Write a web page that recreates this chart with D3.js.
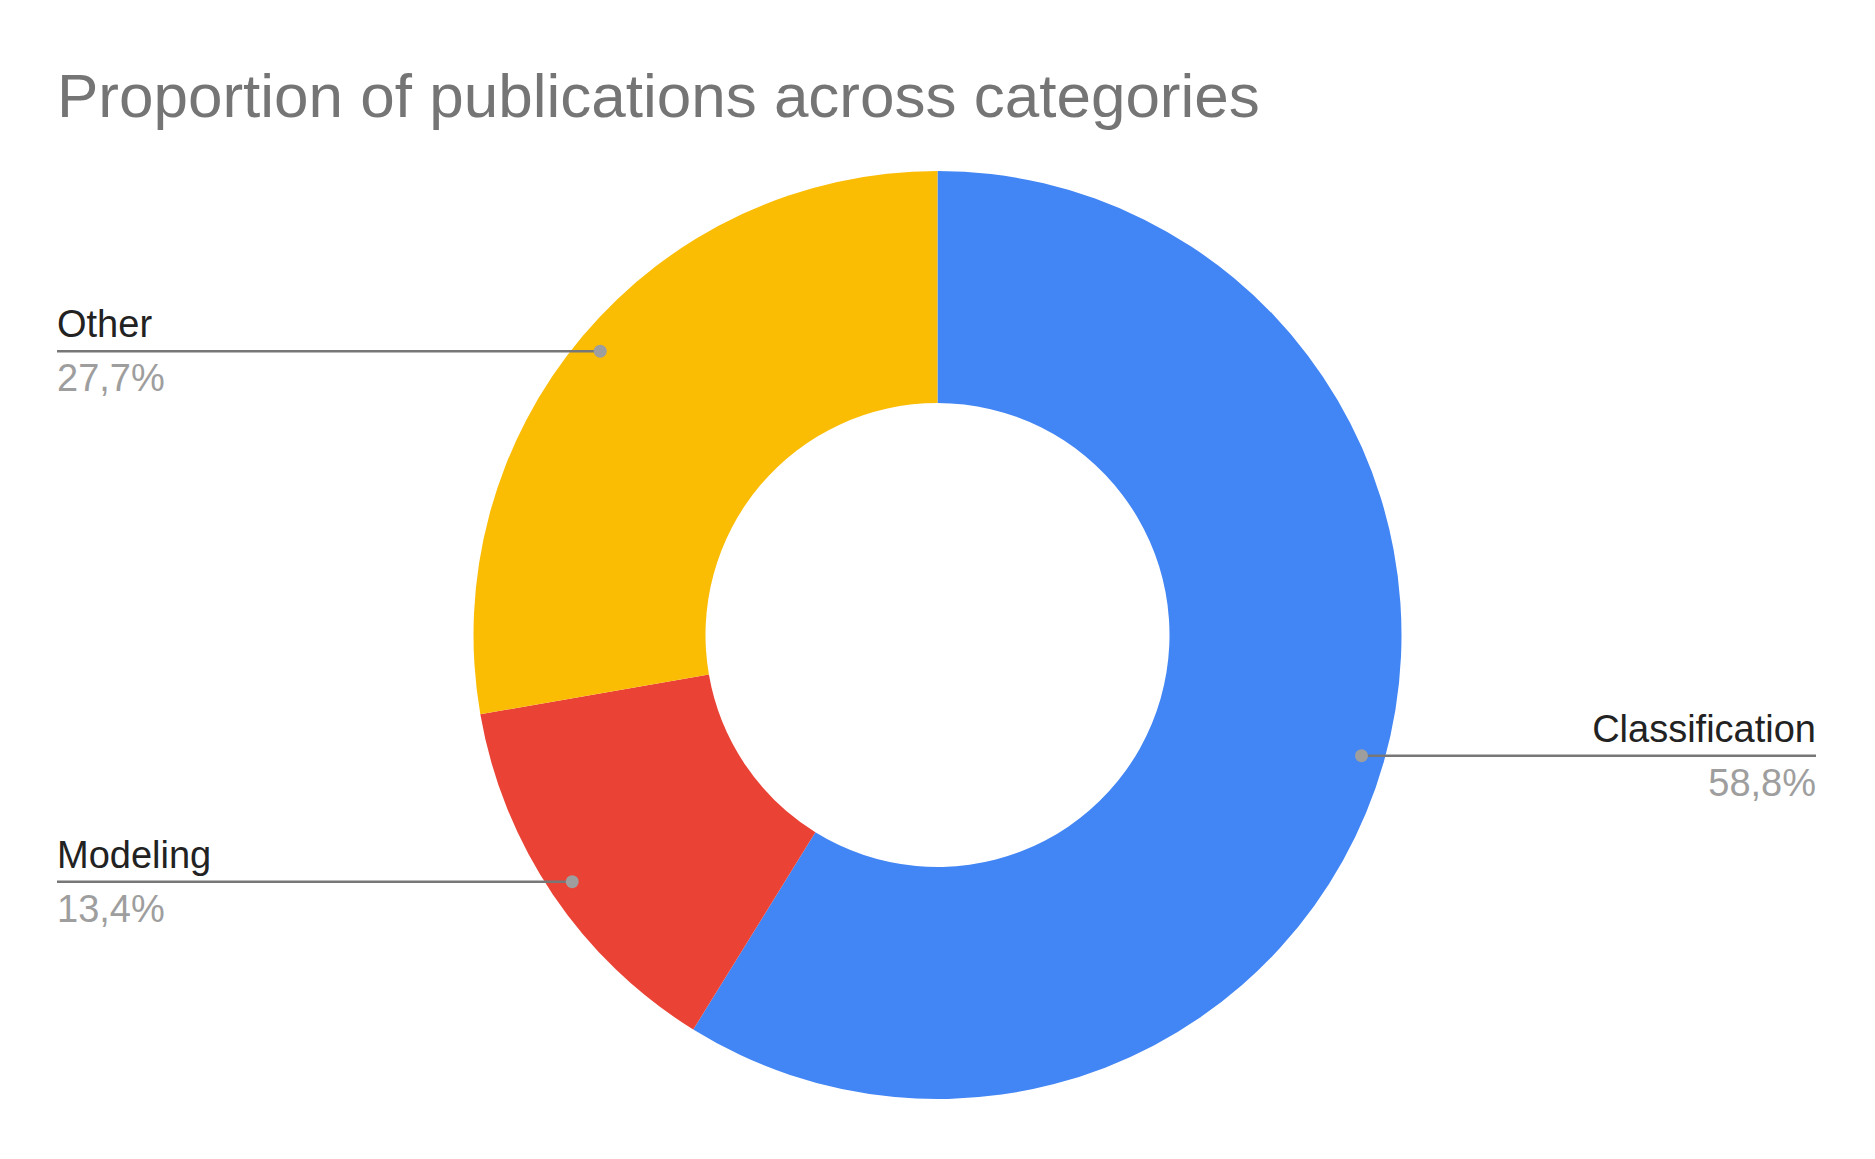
<!DOCTYPE html>
<html>
<head>
<meta charset="utf-8">
<script src="https://cdn.jsdelivr.net/npm/d3@7"></script>
<style>
  body { margin: 0; background: #fff; }
  svg { display: block; }
</style>
</head>
<body>
<div id="chart"></div>
<script>
var categories = ["Classification", "Modeling", "Other"];
var counts = [70, 16, 33];
var colors = ["#4285F4", "#EA4335", "#FBBC04"];
var chartTitle = "Proportion of publications across categories";

var width = 1875, height = 1159;
var cx = 937.5, cy = 635;
var outerR = 464, innerR = 232;
var leftX = 57, rightX = 1816;
var font = "'Liberation Sans', Arial, sans-serif";

var svg = d3.select("#chart").append("svg")
    .attr("width", width)
    .attr("height", height);

svg.append("text")
    .attr("x", leftX)
    .attr("y", 117)
    .attr("font-family", font)
    .attr("font-size", 62)
    .attr("fill", "#757575")
    .text(chartTitle);

var data = categories.map(function(c, i) { return {name: c, value: counts[i], color: colors[i]}; });
var total = d3.sum(counts);

var pie = d3.pie().sort(null).value(function(d) { return d.value; });
var arc = d3.arc().innerRadius(innerR).outerRadius(outerR);
var arcs = pie(data);

var g = svg.append("g").attr("transform", "translate(" + cx + "," + cy + ")");

g.selectAll("path")
    .data(arcs)
    .enter()
    .append("path")
    .attr("d", arc)
    .attr("fill", function(d) { return d.data.color; });

// label anchor sits at the middle angle of each slice, near the outer edge
var anchorR = outerR * 0.95;
var fmt = function(v) { return d3.format(".1f")(v * 100).replace(".", ",") + "%"; };

arcs.forEach(function(d) {
    var a = (d.startAngle + d.endAngle) / 2;
    var px = cx + anchorR * Math.sin(a);
    var py = cy - anchorR * Math.cos(a);
    var isRight = Math.sin(a) > 0;
    var edge = isRight ? rightX : leftX;
    var anchor = isRight ? "end" : "start";

    svg.append("line")
        .attr("x1", px).attr("y1", py)
        .attr("x2", edge).attr("y2", py)
        .attr("stroke", "#777777")
        .attr("stroke-width", 2.5);

    svg.append("circle")
        .attr("cx", px).attr("cy", py)
        .attr("r", 6.5)
        .attr("fill", "#9e9e9e");

    svg.append("text")
        .attr("x", edge).attr("y", py - 14)
        .attr("text-anchor", anchor)
        .attr("font-family", font)
        .attr("font-size", 38)
        .attr("fill", "#222222")
        .text(d.data.name);

    svg.append("text")
        .attr("x", edge).attr("y", py + 40)
        .attr("text-anchor", anchor)
        .attr("font-family", font)
        .attr("font-size", 38)
        .attr("fill", "#9e9e9e")
        .text(fmt(d.data.value / total));
});
</script>
</body>
</html>
